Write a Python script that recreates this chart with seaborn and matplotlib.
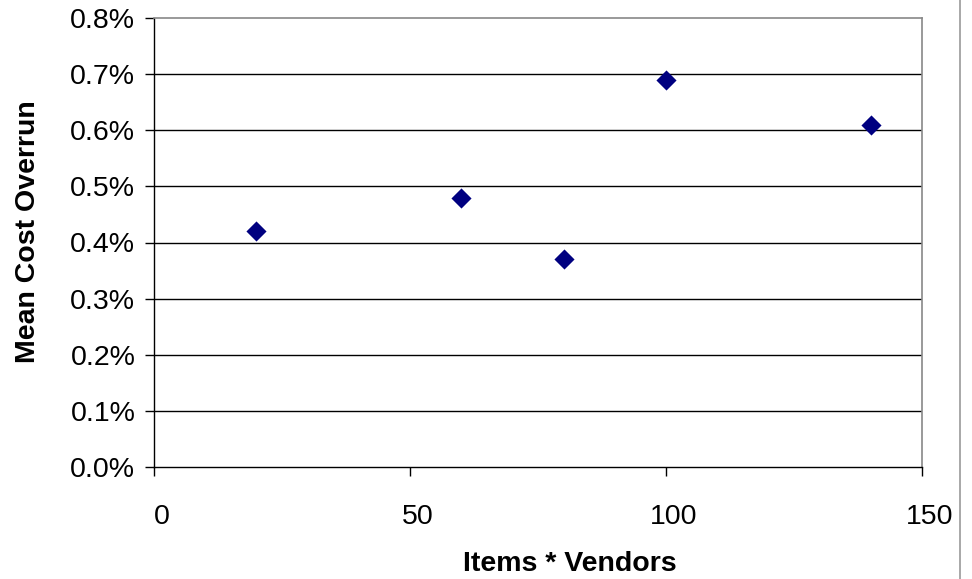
import matplotlib
matplotlib.use("Agg")
import matplotlib.pyplot as plt
import matplotlib.transforms as mtransforms
import seaborn as sns
import pandas as pd
from matplotlib.lines import Line2D
from matplotlib.ticker import FuncFormatter

# Data
items_vendors = [20, 60, 80, 100, 140]
mean_cost_overrun = [0.42, 0.48, 0.37, 0.69, 0.61]  # percent
x_ticks = [0, 50, 100, 150]
y_ticks = [0.0, 0.1, 0.2, 0.3, 0.4, 0.5, 0.6, 0.7, 0.8]

df = pd.DataFrame({"x": items_vendors, "y": mean_cost_overrun})

sns.set_theme(style="white")
plt.rcParams["font.family"] = ["Liberation Sans", "DejaVu Sans"]

fig = plt.figure(figsize=(9.72, 5.79), dpi=100)
ax = fig.add_axes([154 / 972, 112 / 579, 768 / 972, 449 / 579])

for yv in y_ticks[1:-1]:
    ax.axhline(yv, color="black", lw=1.0, zorder=1)

sns.scatterplot(data=df, x="x", y="y", marker="D", s=105, color="#000080",
                edgecolor="#000080", linewidth=0, ax=ax, zorder=3)

ax.set_xlim(0, 150)
ax.set_ylim(0, 0.8)
ax.set_xticks(x_ticks)
ax.set_yticks(y_ticks)
ax.yaxis.set_major_formatter(FuncFormatter(lambda v, p: f"{v:.1f}%"))
ax.xaxis.set_major_formatter(FuncFormatter(lambda v, p: f"{int(v)}"))

for side in ["left", "bottom"]:
    ax.spines[side].set_color("black")
    ax.spines[side].set_linewidth(1.0)
for side in ["top", "right"]:
    ax.spines[side].set_color("#888888")
    ax.spines[side].set_linewidth(1.2)

ax.tick_params(axis="both", which="major", direction="out", length=6.5, width=1.0,
               color="black", labelsize=20.5, labelcolor="black")
ax.tick_params(axis="x", pad=20, bottom=True)
ax.tick_params(axis="y", pad=7, left=True)

offset = mtransforms.ScaledTranslation(8 / 100, 0, fig.dpi_scale_trans)
for lbl in ax.get_xticklabels():
    lbl.set_transform(lbl.get_transform() + offset)

ax.set_xlabel("Items * Vendors", fontsize=20.5, fontweight="bold", color="black")
ax.set_ylabel("Mean Cost Overrun", fontsize=20.5, fontweight="bold", color="black")
ax.xaxis.set_label_coords((570 - 154) / 768, (467 - 564) / 449)
ax.xaxis.label.set_va("center")
ax.yaxis.set_label_coords((28 - 154) / 768, (467 - 232) / 449)
ax.yaxis.label.set_va("center")

fig.add_artist(Line2D([959.5 / 972, 959.5 / 972], [0, 1], transform=fig.transFigure,
                      color="#999999", lw=1.2))

fig.savefig("out.png", dpi=100)
